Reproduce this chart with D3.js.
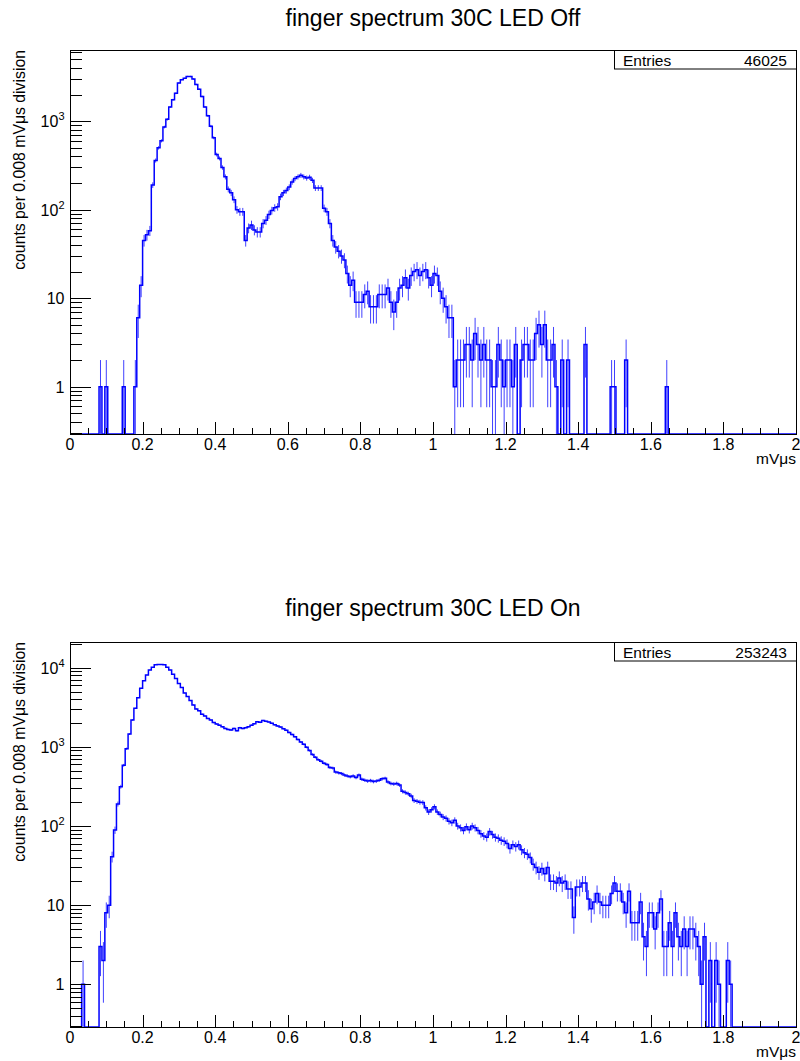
<!DOCTYPE html>
<html>
<head>
<meta charset="utf-8">
<script src="https://cdn.jsdelivr.net/npm/d3@7"></script>
<style>
  html, body { margin: 0; padding: 0; background: #fff; }
  text { font-family: "Liberation Sans", Arial, Helvetica, sans-serif; fill: #000; }
</style>
</head>
<body>
<div id="chart"></div>
<script>
// counts per 0.008 mVus bin, 250 bins from 0 to 2
var countsOff = [
  0,0,0,0,0,0,0,0,0,0,
  1,0,1,0,0,0,0,0,1,0,
  0,0,1,6,14,45,52,58,190,360,
  500,600,860,1050,1450,1750,2070,2700,2950,3050,
  3200,3200,3000,2600,2300,1900,1450,1150,880,650,
  420,380,300,235,170,155,130,100,95,95,
  45,62,67,59,56,56,70,76,88,98,
  105,108,140,155,165,180,206,225,235,245,
  235,228,233,215,176,176,176,104,95,70,
  45,38,34,30,27,19,14,16,9,9,
  9,11,12,8,8,8,11,11,11,13,
  9,7,9,13,14,17,13,18,20,21,
  18,20,21,17,14,19,18,12,10,8,
  6,6,1,2,2,2,3,3,2,4,
  3,2,3,2,2,1,1,3,2,1,
  2,2,1,3,0,2,3,3,2,2,
  4,5,3,5,2,2,3,1,0,2,
  0,2,0,0,0,0,0,3,0,0,
  0,0,0,0,0,0,1,1,0,0,
  0,2,0,0,0,0,0,0,0,0,
  0,0,0,0,0,1,0,0,0,0,
  0,0,0,0,0,0,0,0,0,0,
  0,0,0,0,0,0,0,0,0,0,
  0,0,0,0,0,0,0,0,0,0,
  0,0,0,0,0,0,0,0,0,0
];

var countsOn = [
  0,0,0,0,1,0,0,0,0,0,
  3,2,8,10,41,89,190,314,585,948,
  1450,2190,3070,4180,5500,6860,8090,9360,10100,10900,
  11000,11000,10900,10100,9360,8250,7300,6320,5640,4810,
  4320,3840,3390,3020,2850,2590,2460,2290,2190,2030,
  1950,1880,1790,1710,1660,1630,1710,1600,1750,1710,
  1750,1790,1880,1960,2080,2040,2150,2100,2060,1990,
  1900,1840,1780,1700,1620,1520,1430,1340,1240,1150,
  1080,990,900,800,740,690,660,620,600,550,
  540,480,470,460,440,430,420,430,410,440,
  390,380,370,375,365,370,380,395,400,360,
  345,340,345,330,275,265,255,240,210,205,
  200,198,170,150,160,175,150,140,130,125,
  115,110,118,100,95,88,98,90,100,95,
  88,80,75,72,85,78,72,70,66,64,
  60,52,58,55,58,50,46,44,40,33,
  30,26,29,25,30,20,20,19,22,19,
  20,16,16,7,17,17,19,19,12,9,
  11,14,11,10,10,10,14,19,15,15,
  11,8,15,6,6,6,11,4,3,8,
  8,5,8,12,3,3,6,3,8,4,
  3,5,3,5,5,4,3,1,4,0,
  2,0,2,1,0,0,2,1,0,0,
  0,0,0,0,0,0,0,0,0,0,
  0,0,0,0,0,0,0,0,0,0
];

var titles = ["finger spectrum 30C LED Off", "finger spectrum 30C LED On"];
var entries = [46025, 253243];
var xTickValues = [0, 0.2, 0.4, 0.6, 0.8, 1, 1.2, 1.4, 1.6, 1.8, 2];
var xTickLabels = ["0", "0.2", "0.4", "0.6", "0.8", "1", "1.2", "1.4", "1.6", "1.8", "2"];
var yDecadesOff = [1, 10, 100, 1000];
var yDecadesOn = [1, 10, 100, 1000, 10000];
// [base, exponent] for each decade label
var yLabelsOff = [["1", ""], ["10", ""], ["10", "2"], ["10", "3"]];
var yLabelsOn = [["1", ""], ["10", ""], ["10", "2"], ["10", "3"], ["10", "4"]];
var yTitle = "counts per 0.008 mV\u03bcs division";
var xTitle = "mV\u03bcs";
var binWidth = 0.008;

var W = 800, H = 1061;
var svg = d3.select("#chart").append("svg")
    .attr("width", W).attr("height", H)
    .style("display", "block");

var panels = [
  { counts: countsOff, title: titles[0], entries: entries[0], decades: yDecadesOff, labels: yLabelsOff,
    top: 50, bottom: 434, yMin: 0.292, yMax: 6380, titleY: 26 },
  { counts: countsOn, title: titles[1], entries: entries[1], decades: yDecadesOn, labels: yLabelsOn,
    top: 642, bottom: 1027, yMin: 0.289, yMax: 21130, titleY: 616 }
];

var left = 70, right = 796;

panels.forEach(function (p) {
    var g = svg.append("g");

    var x = d3.scaleLinear().domain([0, 2]).range([left, right]);
    var y = d3.scaleLog().domain([p.yMin, p.yMax]).range([p.bottom, p.top]).clamp(true);

    function yv(v) { return v <= p.yMin ? p.bottom : y(v); }

    // title
    g.append("text")
        .attr("x", (left + right) / 2)
        .attr("y", p.titleY)
        .attr("text-anchor", "middle")
        .style("font-size", "23px")
        .text(p.title);

    // histogram outline (step)
    var d = "";
    p.counts.forEach(function (c, i) {
        var x0 = x(i * binWidth), x1 = x((i + 1) * binWidth), yy = yv(c);
        d += (i === 0 ? "M" : "L") + x0 + "," + yy + "L" + x1 + "," + yy;
    });
    g.append("path")
        .attr("d", d)
        .attr("fill", "none")
        .attr("stroke", "#0000ff")
        .attr("stroke-width", 1.5);

    // error bars sqrt(N)
    g.append("g").selectAll("line")
        .data(p.counts.map(function (c, i) { return { c: c, i: i }; }).filter(function (o) { return o.c > 0; }))
        .enter().append("line")
        .attr("x1", function (o) { return x((o.i + 0.5) * binWidth); })
        .attr("x2", function (o) { return x((o.i + 0.5) * binWidth); })
        .attr("y1", function (o) { return yv(o.c - Math.sqrt(o.c)); })
        .attr("y2", function (o) { return yv(o.c + Math.sqrt(o.c)); })
        .attr("stroke", "#0000ff")
        .attr("stroke-opacity", 0.75)
        .attr("stroke-width", 1);

    // frame
    g.append("rect")
        .attr("x", left + 0.5).attr("y", p.top + 0.5)
        .attr("width", right - left).attr("height", p.bottom - p.top)
        .attr("fill", "none").attr("stroke", "#000").attr("stroke-width", 1);

    // x ticks
    var xa = g.append("g").attr("stroke", "#000").attr("stroke-width", 1);
    x.ticks(40).forEach(function (t) {
        var major = xTickValues.some(function (v) { return Math.abs(v - t) < 1e-9; });
        var px = Math.round(x(t)) + 0.5;
        xa.append("line").attr("x1", px).attr("x2", px)
            .attr("y1", p.bottom).attr("y2", p.bottom - (major ? 12 : 6));
    });
    g.append("g").selectAll("text")
        .data(xTickValues)
        .enter().append("text")
        .attr("x", function (v) { return x(v); })
        .attr("y", p.bottom + 16)
        .attr("text-anchor", "middle")
        .style("font-size", "16px")
        .text(function (v, i) { return xTickLabels[i]; });

    g.append("text")
        .attr("x", right)
        .attr("y", p.bottom + 30)
        .attr("text-anchor", "end")
        .style("font-size", "15.5px")
        .text(xTitle);

    // y ticks
    var ya = g.append("g").attr("stroke", "#000").attr("stroke-width", 1);
    y.ticks().forEach(function (t) {
        var major = p.decades.indexOf(t) >= 0;
        var py = Math.round(y(t)) + 0.5;
        ya.append("line").attr("x1", left).attr("x2", left + (major ? 21 : 12))
            .attr("y1", py).attr("y2", py);
    });
    var yl = g.append("g").selectAll("text")
        .data(p.decades)
        .enter().append("text")
        .attr("x", 64.5)
        .attr("y", function (v) { return y(v) + 6; })
        .attr("text-anchor", "end")
        .style("font-size", "16px");
    yl.append("tspan").text(function (v, i) { return p.labels[i][0]; });
    yl.append("tspan")
        .attr("dy", -7)
        .style("font-size", "11px")
        .text(function (v, i) { return p.labels[i][1]; });

    g.append("text")
        .attr("transform", "translate(24.5," + p.top + ") rotate(-90)")
        .attr("text-anchor", "end")
        .style("font-size", "15.8px")
        .text(yTitle);

    // stats box
    var sb = g.append("g");
    sb.append("rect")
        .attr("x", 614.5).attr("y", p.top + 0.5)
        .attr("width", right - 614).attr("height", 18.5)
        .attr("fill", "#fff").attr("stroke", "#000").attr("stroke-width", 1);
    sb.append("text")
        .attr("x", 623).attr("y", p.top + 16)
        .style("font-size", "15.5px")
        .text("Entries");
    sb.append("text")
        .attr("x", 787).attr("y", p.top + 16)
        .attr("text-anchor", "end")
        .style("font-size", "15.5px")
        .text(p.entries);
});
</script>
</body>
</html>
